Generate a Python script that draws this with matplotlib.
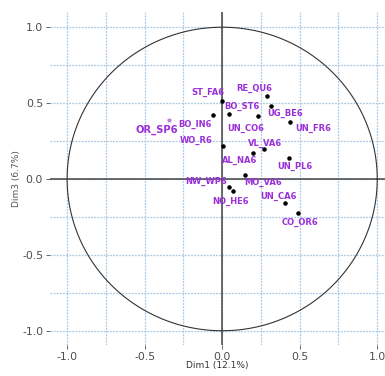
import numpy as np
import matplotlib
matplotlib.use('Agg')
import matplotlib.pyplot as plt

# active variables (Dim1, Dim3 coordinates)
names = ['ST_FA6', 'RE_QU6', 'BO_ST6', 'UG_BE6', 'UN_CO6', 'BO_IN6', 'UN_FR6',
         'WO_R6', 'VL_VA6', 'AL_NA6', 'UN_PL6', 'MO_VA6', 'NW_WP6', 'NO_HE6',
         'UN_CA6', 'CO_OR6']
dim1 = [0.00, 0.29, 0.043, 0.316, 0.228, -0.056, 0.44,
        0.008, 0.267, 0.198, 0.428, 0.148, 0.041, 0.069,
        0.406, 0.49]
dim3 = [0.515, 0.55, 0.43, 0.48, 0.416, 0.42, 0.373,
        0.217, 0.195, 0.173, 0.14, 0.026, -0.055, -0.079,
        -0.16, -0.226]

# supplementary variable
sup_name = 'OR_SP6'
sup_dim1 = -0.34
sup_dim3 = 0.388

ticks = [-1.0, -0.5, 0.0, 0.5, 1.0]
xlab = 'Dim1 (12.1%)'
ylab = 'Dim3 (6.7%)'

# label offsets in pixels (dx, dy)
offsets = {
    'ST_FA6': (-14, 8), 'RE_QU6': (-13, 7), 'BO_ST6': (13, 7), 'UG_BE6': (14, -7),
    'UN_CO6': (-12, -13), 'BO_IN6': (-18, -9), 'UN_FR6': (23, -6), 'WO_R6': (-27, 6),
    'VL_VA6': (1, 6), 'AL_NA6': (-13, -8), 'UN_PL6': (6, -9), 'MO_VA6': (18, -7),
    'NW_WP6': (-22, 6), 'NO_HE6': (-2, -10), 'UN_CA6': (-7, 7), 'CO_OR6': (2, -9),
}

purple = '#9B30D9'
gray = '#4d4d4d'

fig = plt.figure(figsize=(3.85, 3.76), dpi=100)
ax = fig.add_axes([0.13, 0.082, 0.87, 0.886])
ax.set_xlim(-1.11, 1.05)
ax.set_ylim(-1.095, 1.1)

grid = np.arange(-1.0, 1.01, 0.25)
for g in grid:
    ax.axvline(g, color='#A9C8E4', lw=0.9, ls=(0, (1.5, 1)), zorder=0)
    ax.axhline(g, color='#A9C8E4', lw=0.9, ls=(0, (1.5, 1)), zorder=0)

ax.axhline(0, color='#444444', lw=1.1, zorder=1)
ax.axvline(0, color='#444444', lw=1.1, zorder=1)

t = np.linspace(0, 2 * np.pi, 400)
ax.plot(np.cos(t), np.sin(t), color='#333333', lw=0.8, zorder=2)

ax.scatter(dim1, dim3, s=5, color='black', zorder=3)
for n, x, y in zip(names, dim1, dim3):
    ax.annotate(n, (x, y), xytext=offsets[n], textcoords='offset pixels',
                ha='center', va='center', fontsize=6.0, fontweight='bold',
                color=purple, zorder=4)

ax.scatter([sup_dim1], [sup_dim3], s=6, marker='*', color='#C080E8', zorder=3)
ax.annotate(sup_name, (sup_dim1, sup_dim3), xytext=(-13, -10),
            textcoords='offset pixels', ha='center', va='center',
            fontsize=7.2, fontweight='bold', color=purple, zorder=4)

for s in ax.spines.values():
    s.set_visible(False)
ax.set_xticks(ticks)
ax.set_yticks(ticks)
ax.set_xticklabels(['%.1f' % v for v in ticks])
ax.set_yticklabels(['%.1f' % v for v in ticks])
ax.tick_params(colors=gray, labelsize=7.8, length=3, width=0.6, pad=2)
ax.set_xlabel(xlab, fontsize=6.5, color='#333333', labelpad=-1)
ax.set_ylabel(ylab, fontsize=6.5, color='#555555', labelpad=1)

fig.savefig('out.png', dpi=100, facecolor='white')
